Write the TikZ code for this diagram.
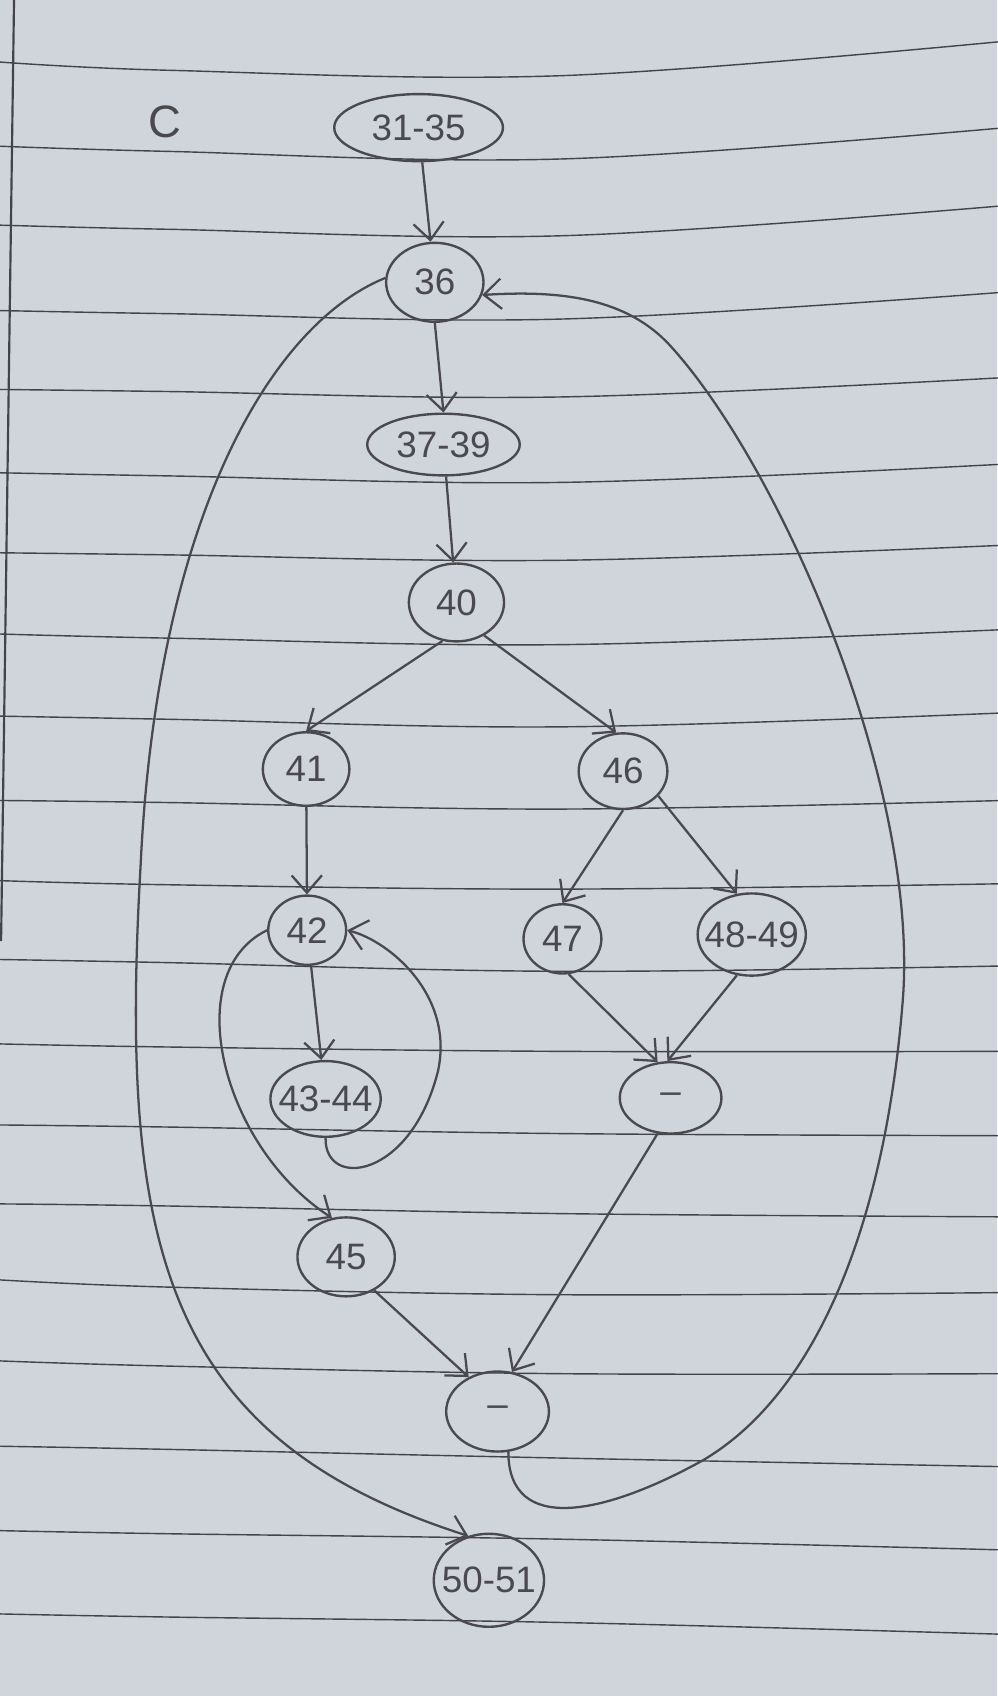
\documentclass[tikz,border=0pt]{standalone}
\usepackage{fontspec}
\setmainfont{Liberation Sans}
\usetikzlibrary{shapes.geometric,arrows.meta}
\definecolor{paper}{RGB}{208,212,219}
\definecolor{rulec}{RGB}{66,68,74}
\definecolor{pencil}{RGB}{74,74,78}
\begin{document}
\begin{tikzpicture}[x=0.5pt,y=-0.5pt,
  rulel/.style={draw=rulec,line width=0.65pt},
  nd/.style={ellipse,draw=pencil,line width=1.1pt,inner sep=0pt,text=pencil,
    font=\fontsize{17}{17}\selectfont},
  arr/.style={draw=pencil,line width=1.05pt,
    -{Straight Barb[length=8pt,width=14pt,line width=1.05pt]}}]
% paper
\fill[paper] (0,0) rectangle (922,1568);
\useasboundingbox (0,0) rectangle (922,1568);
% ruled lines
\foreach \a/\b/\c/\d in {57/65/70/38, 135/140/147/118, 208/212/218/190, 287/290/295/270,
  360/362/367/349, 437/440/446/429, 511/513/518/504, 586/590/596/582, 662/665/672/659,
  740/742/748/740, 814/818/822/817, 887/890/898/893, 965/968/972/972, 1040/1042/1048/1050,
  1113/1115/1122/1125, 1183/1190/1197/1195, 1258/1263/1270/1270, 1337/1340/1348/1356,
  1415/1418/1423/1433, 1492/1495/1500/1511}
  \draw[rulel] plot[smooth,tension=0.6] coordinates {(-5,\a) (157,\b) (518,\c) (930,\d)};
% margin line
\draw[draw=rulec,line width=1pt] (13,-2) -- (1,870);
% label C
\node[text=pencil,font=\fontsize{21}{21}\selectfont] (lc) at (152,113) {C};
% nodes
\node[nd,minimum width=78pt,minimum height=31pt] (n3135) at (387,118) {\makebox[0pt]{31-35}};
\node[nd,minimum width=45pt,minimum height=36.5pt] (n36) at (402,261) {\makebox[0pt]{36}};
\node[nd,minimum width=70.5pt,minimum height=28.5pt] (n3739) at (410,411) {\makebox[0pt]{37-39}};
\node[nd,minimum width=44pt,minimum height=36pt] (n40) at (422,557) {\makebox[0pt]{40}};
\node[nd,minimum width=40pt,minimum height=34pt] (n41) at (283,711) {\makebox[0pt]{41}};
\node[nd,minimum width=41pt,minimum height=35pt] (n46) at (576,713) {\makebox[0pt]{46}};
\node[nd,minimum width=36pt,minimum height=32pt] (n42) at (284,860) {\makebox[0pt]{42}};
\node[nd,minimum width=36pt,minimum height=32pt] (n47) at (520,868) {\makebox[0pt]{47}};
\node[nd,minimum width=50pt,minimum height=38pt] (n4849) at (695,864) {\makebox[0pt]{48-49}};
\node[nd,minimum width=51pt,minimum height=35pt] (n4344) at (301,1016) {\makebox[0pt]{43-44}};
\node[nd,minimum width=47pt,minimum height=33pt] (m1) at (620,1015) {\makebox[0pt]{–}};
\node[nd,minimum width=45pt,minimum height=36.5pt] (n45) at (320,1162) {\makebox[0pt]{45}};
\node[nd,minimum width=47.5pt,minimum height=37pt] (m2) at (460,1305) {\makebox[0pt]{–}};
\node[nd,minimum width=51pt,minimum height=43pt] (n5051) at (452,1461) {\makebox[0pt]{50-51}};
% straight edges
\draw[arr] (n3135) -- (n36);
\draw[arr] (n36.south) -- (n3739.north);
\draw[arr] (n3739) -- (n40);
\draw[arr] (n40.250) -- (n41.north);
\draw[arr] (n40.-50) -- (n46.100);
\draw[arr] (n41) -- (n42);
\draw[arr] (n46.south) -- (n47.north);
\draw[arr] (n46.-35) -- (n4849.110);
\draw[arr] (n42) -- (n4344);
\draw[arr] (n47.-80) -- (m1.110);
\draw[arr] (n4849.250) -- (m1.95);
\draw[arr] (m1.250) -- (m2.70);
\draw[arr] (n45.-50) -- (m2.130);
% curved edges
\draw[arr] (n42.west) .. controls (165,900) and (205,1060) .. (n45.110);
\draw[arr] (n4344.south) .. controls (300,1100) and (380,1090) .. (405,990)
  .. controls (420,920) and (360,870) .. (n42.east);
\draw[arr] (m2.285) .. controls (470,1420) and (560,1400) .. (650,1350)
  .. controls (760,1285) and (820,1120) .. (835,920)
  .. controls (848,720) and (720,430) .. (620,320)
  .. controls (580,276) and (520,268) .. (n36.-15);
\draw[arr] (n36.175) .. controls (250,300) and (145,480) .. (130,800)
  .. controls (110,1150) and (150,1330) .. (n5051.115);
\end{tikzpicture}
\end{document}
